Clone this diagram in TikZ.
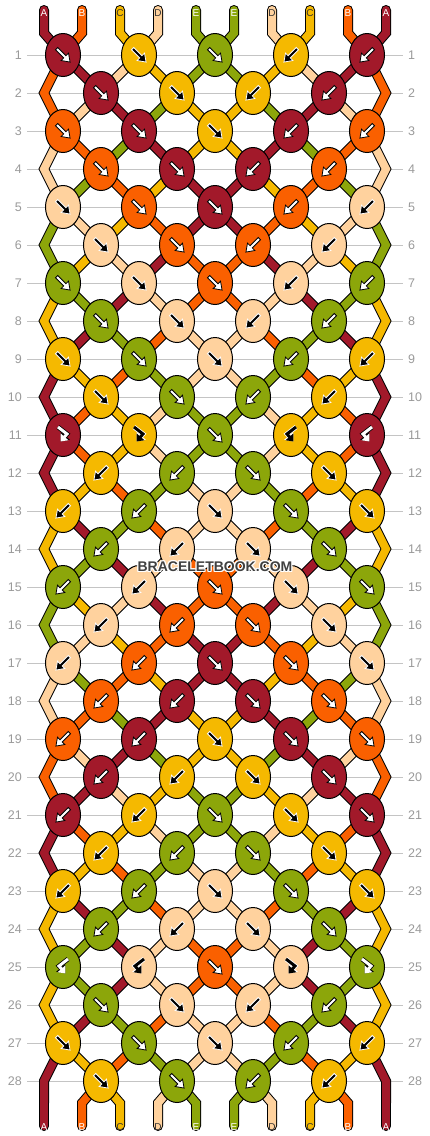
\documentclass[tikz,border=0pt]{standalone}
\usepackage{fontspec}
\setmainfont{Liberation Sans}
\usetikzlibrary{arrows.meta,shapes.geometric}
\definecolor{cA}{HTML}{A2192A}
\definecolor{cB}{HTML}{FA6000}
\definecolor{cC}{HTML}{F5B900}
\definecolor{cD}{HTML}{FFD29E}
\definecolor{cE}{HTML}{8CA60A}
\colorlet{aA}{white}\colorlet{aB}{white}\colorlet{aC}{black}\colorlet{aD}{black}\colorlet{aE}{white}
\colorlet{oA}{black}\colorlet{oB}{black}\colorlet{oC}{white}\colorlet{oD}{white}\colorlet{oE}{black}
\colorlet{lA}{white}\colorlet{lB}{white}\colorlet{lC}{black!80}\colorlet{lD}{black!80}\colorlet{lE}{white}
\definecolor{gridgray}{HTML}{C4C4C4}
\definecolor{numgray}{HTML}{9A9A9A}
\tikzset{
  rowline/.style={draw=gridgray,line width=1},
  rownum/.style={text=numgray,font=\fontsize{12.5}{14}\selectfont,inner sep=0},
  strout/.style={draw=black,line width=10,line cap=round,line join=miter},
  strin/.style={line width=8,line cap=round,line join=miter},
  knot/.style={ellipse,draw=black,line width=1,minimum width=35,minimum height=43,inner sep=0},
  lbl/.style={font=\fontsize{10}{11}\selectfont,inner sep=0},
  wm/.style={font=\bfseries\fontsize{14}{16}\selectfont,inner sep=0},
}
\newcommand\stroke[3]{\ifnum#1=1 \draw[strout] #3;\else\draw[strin,draw=c#2] #3;\fi}
\newcommand\knotarrow[3]{%
  \begin{scope}[shift={(#3.center)}]
  \ifcase#1\or
    \filldraw[draw=o#2,fill=a#2,line width=0.8,line join=miter,rotate=-45]
      (-9,-1.6) -- (2.6,-1.6) -- (2.6,-5.2) -- (10,0) -- (2.6,5.2) -- (2.6,1.6) -- (-9,1.6) -- cycle;
  \or
    \filldraw[draw=o#2,fill=a#2,line width=0.8,line join=miter,rotate=-135]
      (-9,-1.6) -- (2.6,-1.6) -- (2.6,-5.2) -- (10,0) -- (2.6,5.2) -- (2.6,1.6) -- (-9,1.6) -- cycle;
  \or
    \draw[draw=o#2,line width=4.6,-{Triangle[length=7.4,width=11.6]}] (-5,-8) -- (4,-1) -- (-2.5,6.5);
    \draw[draw=a#2,line width=3,-{Triangle[length=6.2,width=10]}] (-5,-8) -- (4,-1) -- (-2.5,6.5);
  \or
    \draw[draw=o#2,line width=4.6,-{Triangle[length=7.4,width=11.6]}] (5,-8) -- (-4,-1) -- (2.5,6.5);
    \draw[draw=a#2,line width=3,-{Triangle[length=6.2,width=10]}] (5,-8) -- (-4,-1) -- (2.5,6.5);
  \fi
  \end{scope}}
\begin{document}
\begin{tikzpicture}[x=1pt,y=-1pt]
\useasboundingbox (0,0) rectangle (430,1136);
\fill[white] (0,0) rectangle (430,1136);
% row lines and numbers
\foreach \r in {1,...,28}{
  \pgfmathsetmacro\yy{55+38*(\r-1)}
  \draw[rowline] (27,\yy) -- (403,\yy);
  \node[rownum,anchor=east] (ln\r) at (22,\yy) {\r};
  \node[rownum,anchor=west] (rn\r) at (408,\yy) {\r};
}
% string positions
\foreach \r in {1,...,28}{
  \pgfmathsetmacro\yy{55+38*(\r-1)}
  \pgfmathtruncatemacro\odd{mod(\r,2)}
  \foreach \p in {1,...,10}{
    \ifnum\odd=1
      \pgfmathsetmacro\xx{63+76*(ceil(\p/2)-1)}
    \else
      \ifnum\p=1 \def\xx{44}\else\ifnum\p=10 \def\xx{386}\else
        \pgfmathsetmacro\xx{101+76*(floor(\p/2)-1)}\fi\fi
    \fi
    \coordinate (n-\r-\p) at (\xx,\yy);
  }
}
\foreach \p in {1,...,10}{
  \pgfmathsetmacro\xx{44+38*(\p-1)}
  \coordinate (t-\p) at (\xx,10);
  \coordinate (n-0-\p) at (\xx,33);
  \coordinate (n-29-\p) at (\xx,1103);
  \coordinate (b-\p) at (\xx,1126);
}
% colour of each string position after each row
\foreach \r/\l in {
 0/{A,B,C,D,E,E,D,C,B,A}, 1/{B,A,D,C,E,E,C,D,A,B}, 2/{B,D,A,E,C,C,E,A,D,B},
 3/{D,B,E,A,C,C,A,E,B,D}, 4/{D,E,B,C,A,A,C,B,E,D}, 5/{E,D,C,B,A,A,B,C,D,E},
 6/{E,C,D,A,B,B,A,D,C,E}, 7/{C,E,A,D,B,B,D,A,E,C}, 8/{C,A,E,B,D,D,B,E,A,C},
 9/{A,C,B,E,D,D,E,B,C,A}, 10/{A,B,C,D,E,E,D,C,B,A}, 11/{A,B,C,D,E,E,D,C,B,A},
 12/{A,C,B,E,D,D,E,B,C,A}, 13/{C,A,E,B,D,D,B,E,A,C}, 14/{C,E,A,D,B,B,D,A,E,C},
 15/{E,C,D,A,B,B,A,D,C,E}, 16/{E,D,C,B,A,A,B,C,D,E}, 17/{D,E,B,C,A,A,C,B,E,D},
 18/{D,B,E,A,C,C,A,E,B,D}, 19/{B,D,A,E,C,C,E,A,D,B}, 20/{B,A,D,C,E,E,C,D,A,B},
 21/{A,B,C,D,E,E,D,C,B,A}, 22/{A,C,B,E,D,D,E,B,C,A}, 23/{C,A,E,B,D,D,B,E,A,C},
 24/{C,E,A,D,B,B,D,A,E,C}, 25/{C,E,A,D,B,B,D,A,E,C}, 26/{C,A,E,B,D,D,B,E,A,C},
 27/{A,C,B,E,D,D,E,B,C,A}, 28/{A,B,C,D,E,E,D,C,B,A}}{
  \foreach \c [count=\p] in \l {\expandafter\xdef\csname S-\r-\p\endcsname{\c}}
}
% strings, outline pass then colour pass
\foreach \pass in {1,2}{
  \foreach \p in {1,...,10}{
    \edef\cc{\csname S-0-\p\endcsname}
    \stroke{\pass}{\cc}{(t-\p) -- (n-0-\p) -- (n-1-\p)}
  }
  \foreach \r in {2,4,...,28}{
    \pgfmathtruncatemacro\ra{\r-1}
    \pgfmathtruncatemacro\rb{\r+1}
    \foreach \p in {1,10}{
      \edef\cc{\csname S-\r-\p\endcsname}
      \stroke{\pass}{\cc}{(n-\ra-\p) -- (n-\r-\p) -- (n-\rb-\p)}
    }
  }
  \foreach \p in {1,10}{
    \edef\cc{\csname S-28-\p\endcsname}
    \stroke{\pass}{\cc}{(n-29-\p) -- (b-\p)}
  }
  \foreach \p in {2,...,9}{
    \edef\cc{\csname S-28-\p\endcsname}
    \stroke{\pass}{\cc}{(n-28-\p) -- (n-29-\p) -- (b-\p)}
  }
  \foreach \r in {1,...,27}{
    \pgfmathtruncatemacro\rb{\r+1}
    \foreach \p in {2,...,9}{
      \edef\cc{\csname S-\r-\p\endcsname}
      \stroke{\pass}{\cc}{(n-\r-\p) -- (n-\rb-\p)}
    }
  }
}
% knots: 1 forward, 2 backward, 3 forward-backward, 4 backward-forward
\foreach \r/\tl in {
 1/{1,1,1,2,2}, 2/{1,1,2,2}, 3/{1,1,1,2,2}, 4/{1,1,2,2}, 5/{1,1,1,2,2},
 6/{1,1,2,2}, 7/{1,1,1,2,2}, 8/{1,1,2,2}, 9/{1,1,1,2,2}, 10/{1,1,2,2},
 11/{3,3,1,4,4}, 12/{2,2,1,1}, 13/{2,2,1,1,1}, 14/{2,2,1,1}, 15/{2,2,1,1,1},
 16/{2,2,1,1}, 17/{2,2,1,1,1}, 18/{2,2,1,1}, 19/{2,2,1,1,1}, 20/{2,2,1,1},
 21/{2,2,1,1,1}, 22/{2,2,1,1}, 23/{2,2,1,1,1}, 24/{2,2,1,1}, 25/{4,4,1,3,3},
 26/{1,1,2,2}, 27/{1,1,1,2,2}, 28/{1,1,2,2}}{
  \pgfmathtruncatemacro\rp{\r-1}
  \pgfmathtruncatemacro\odd{mod(\r,2)}
  \foreach \t [count=\k] in \tl {
    \ifnum\odd=1 \pgfmathtruncatemacro\pL{2*\k-1}\else\pgfmathtruncatemacro\pL{2*\k}\fi
    \pgfmathtruncatemacro\pR{\pL+1}
    \ifodd\t\relax \edef\kc{\csname S-\rp-\pL\endcsname}\else\edef\kc{\csname S-\rp-\pR\endcsname}\fi
    \node[knot,fill=c\kc] (k-\r-\k) at (n-\r-\pL) {};
    \knotarrow{\t}{\kc}{k-\r-\k}
  }
}
% string letters
\foreach \p in {1,...,10}{
  \edef\cc{\csname S-0-\p\endcsname}
  \node[lbl,text=l\cc] (tl\p) at ([yshift=-3]t-\p) {\cc};
  \edef\cd{\csname S-28-\p\endcsname}
  \node[lbl,text=l\cd] (bl\p) at ([yshift=-1]b-\p) {\cd};
}
% watermark
\foreach \dx/\dy [count=\i] in {1/0,-1/0,0/1,0/-1,1/1,-1/-1,1/-1,-1/1}{
  \node[wm,text=white] (wmh\i) at (215+\dx,567+\dy) {BRACELETBOOK.COM};
}
\node[wm,text=black!75] (wm) at (215,567) {BRACELETBOOK.COM};
\end{tikzpicture}
\end{document}
